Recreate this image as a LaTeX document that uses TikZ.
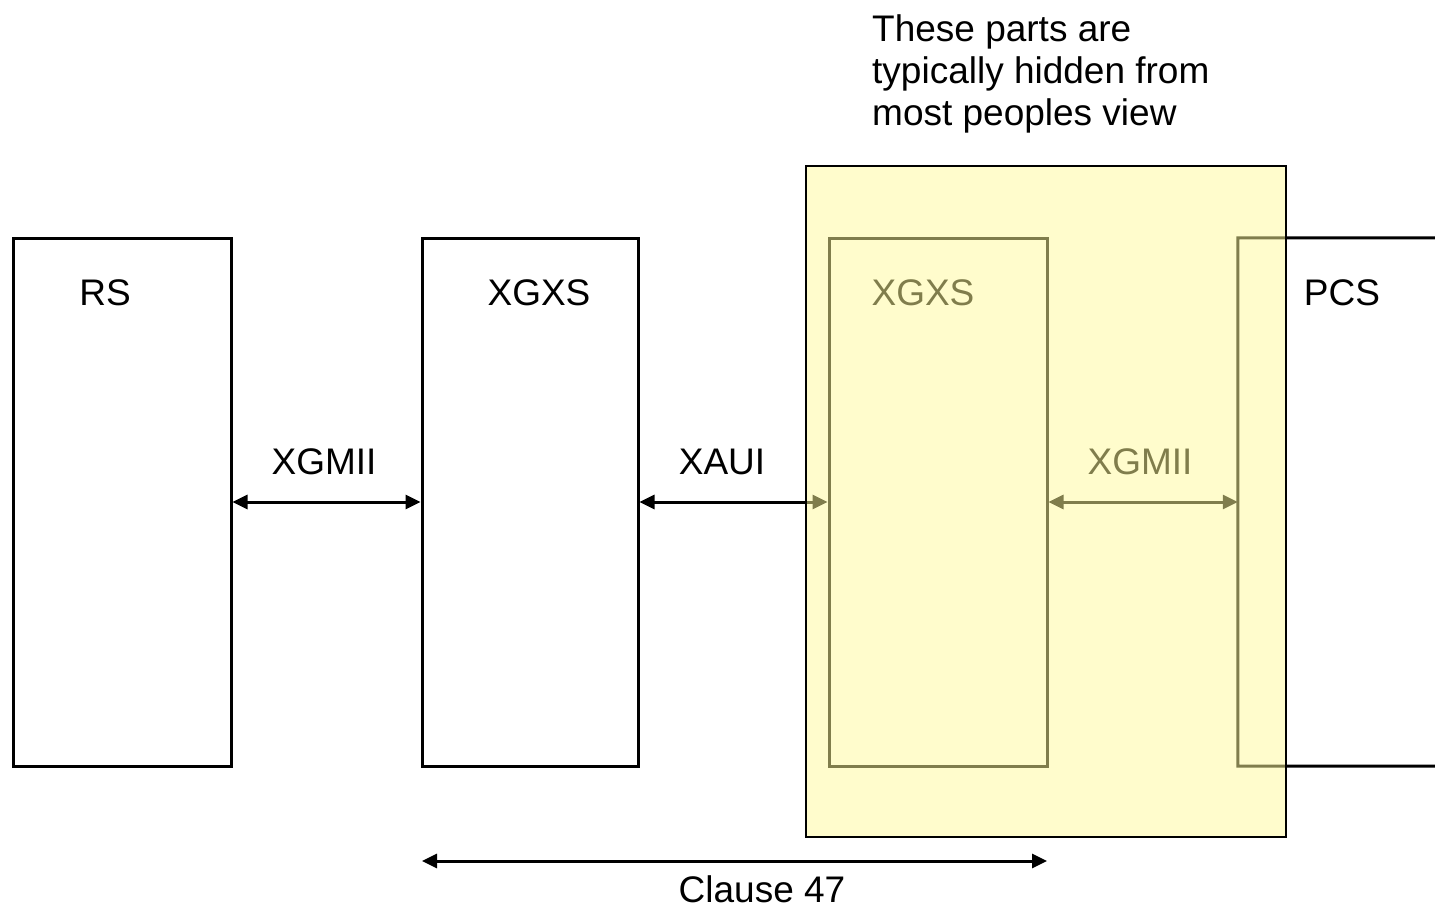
\documentclass[tikz,border=0pt]{standalone}
\usepackage{fontspec}
\setmainfont{Liberation Sans}
\usetikzlibrary{arrows.meta}
\begin{document}
\begin{tikzpicture}[x=1pt,y=-1pt,
  box/.style={draw=black, line width=3pt, minimum height=528pt, inner sep=0pt},
  lbl/.style={font=\fontsize{37}{42}\selectfont, inner sep=0pt, anchor=base},
  biarr/.style={line width=3pt, {Triangle[length=15pt,width=14pt]}-{Triangle[length=15pt,width=14pt]}, shorten <=0pt, shorten >=0pt}]
\useasboundingbox (0,0) rectangle (1435,907);
% boxes
\node[box, minimum width=218pt] (rs) at (122,502) {};
\node[box, minimum width=216pt] (xgxs) at (530,502) {};
\node[box, minimum width=218pt] (ixgxs) at (938,502) {};
\node[inner sep=0pt, minimum width=400pt, minimum height=528pt] (pcs) at (1438,502) {};
\draw[line width=3pt] (1440,238) -- (pcs.north west) -- (pcs.south west) -- (1440,766);
% labels in boxes
\node[lbl] (lrs) at (105,305) {RS};
\node[lbl] (lxgxs) at (539,305) {XGXS};
\node[lbl] (lixgxs) at (923,305) {XGXS};
\node[lbl] (lpcs) at (1342,305) {PCS};
% connectors
\draw[biarr] (rs.east) -- (xgxs.west);
\draw[biarr] (xgxs.east) -- (ixgxs.west);
\draw[biarr] (ixgxs.east) -- (pcs.west);
\node[lbl] (lx1) at (324,474) {XGMII};
\node[lbl] (lxaui) at (722,474) {XAUI};
\node[lbl] (lx2) at (1140,474) {XGMII};
% clause 47
\coordinate (c1) at (422,861);
\coordinate (c2) at (1047,861);
\draw[biarr] (c1) -- (c2);
\node[lbl] (lcl) at (762,902) {Clause 47};
% overlay
\fill[fill=yellow!40, fill opacity=0.5] (806,166) rectangle (1286,837);
\node[draw=black, line width=2.5pt, minimum width=480pt, minimum height=671pt, inner sep=0pt] (hidden) at (1046,501.5) {};
% top text
\node[lbl, anchor=base west] (t1) at (872,42) {These parts are};
\node[lbl, anchor=base west] (t2) at (872,83) {typically hidden from};
\node[lbl, anchor=base west] (t3) at (872,125) {most peoples view};
\end{tikzpicture}
\end{document}
